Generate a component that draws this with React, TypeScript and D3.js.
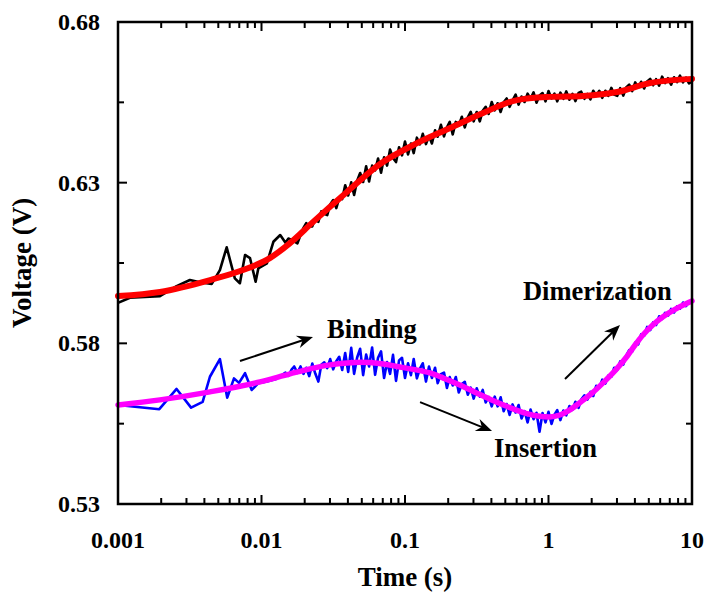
import React from 'react';
import * as d3 from 'd3';

// ---------- data ----------
const xTickValues = [0.001, 0.01, 0.1, 1, 10];
const xTickLabels = ['0.001', '0.01', '0.1', '1', '10'];
const yTickValues = [0.53, 0.58, 0.63, 0.68];
const yTickLabels = ['0.53', '0.58', '0.63', '0.68'];
const yMinorValues = [0.555, 0.605, 0.655];

// upper measured trace (black), sparse early samples
const blackEarlyTime = [0.001, 0.00121, 0.00196, 0.00256, 0.00317, 0.00372, 0.0045, 0.00513, 0.00572, 0.00652, 0.00707, 0.00768, 0.00832, 0.0091, 0.0095, 0.0109, 0.0121, 0.0135];
const blackEarlyVolt = [0.5926, 0.5942, 0.5947, 0.5978, 0.5997, 0.5990, 0.5985, 0.6028, 0.6099, 0.6002, 0.5987, 0.6075, 0.6065, 0.5992, 0.6033, 0.6049, 0.6116, 0.6137];

// lower measured trace (blue), sparse early samples
const blueEarlyTime = [0.001, 0.00194, 0.00256, 0.00323, 0.00389, 0.00437, 0.00513, 0.00577, 0.00643, 0.00697, 0.00768, 0.00855, 0.00951, 0.0109, 0.0125];
const blueEarlyVolt = [0.5608, 0.5595, 0.5658, 0.5600, 0.5618, 0.5696, 0.5751, 0.5631, 0.5691, 0.5677, 0.5707, 0.5655, 0.5676, 0.5681, 0.5688];

// dense sampling times shared by both traces
const denseTime = [
  0.0147, 0.0154, 0.0162, 0.0169, 0.0178, 0.0187, 0.0196, 0.0205, 0.0215, 0.0226,
  0.0237, 0.0249, 0.0261, 0.0274, 0.0287, 0.0301, 0.0316, 0.0332, 0.0348, 0.0365,
  0.0383, 0.0402, 0.0422, 0.0442, 0.0464, 0.0487, 0.0511, 0.0536, 0.0562, 0.0590,
  0.0619, 0.0649, 0.0681, 0.0715, 0.0750, 0.0787, 0.0825, 0.0866, 0.0909, 0.0953,
  0.100, 0.105, 0.110, 0.115, 0.121, 0.127, 0.133, 0.140, 0.147, 0.154,
  0.162, 0.169, 0.178, 0.187, 0.196, 0.205, 0.215, 0.226, 0.237, 0.249,
  0.261, 0.274, 0.287, 0.301, 0.316, 0.332, 0.348, 0.365, 0.383, 0.402,
  0.422, 0.442, 0.464, 0.487, 0.511, 0.536, 0.562, 0.590, 0.619, 0.649,
  0.681, 0.715, 0.750, 0.787, 0.825, 0.866, 0.909, 0.953,
  1.00, 1.05, 1.10, 1.15, 1.21, 1.27, 1.33, 1.40, 1.47, 1.54,
  1.62, 1.69, 1.78, 1.87, 1.96, 2.05, 2.15, 2.26, 2.37, 2.49,
  2.61, 2.74, 2.87, 3.01, 3.16, 3.32, 3.48, 3.65, 3.83, 4.02,
  4.22, 4.42, 4.64, 4.87, 5.11, 5.36, 5.62, 5.90, 6.19, 6.49,
  6.81, 7.15, 7.50, 7.87, 8.25, 8.66, 9.09, 9.53, 10.0,
];

const blackDenseVolt = [
  0.6113, 0.6126, 0.6122, 0.6117, 0.6111, 0.6137, 0.6159, 0.6174, 0.6164, 0.6164,
  0.6188, 0.6178, 0.6211, 0.6203, 0.6199, 0.6232, 0.6246, 0.6221, 0.6252, 0.6249,
  0.6292, 0.6260, 0.6301, 0.6262, 0.6306, 0.6330, 0.6302, 0.6351, 0.6304, 0.6353,
  0.6338, 0.6375, 0.6331, 0.6379, 0.6353, 0.6403, 0.6377, 0.6364, 0.6410, 0.6385,
  0.6428, 0.6388, 0.6422, 0.6392, 0.6440, 0.6419, 0.6452, 0.6420, 0.6445, 0.6422,
  0.6463, 0.6443, 0.6480, 0.6444, 0.6472, 0.6489, 0.6450, 0.6489, 0.6478, 0.6505,
  0.6472, 0.6503, 0.6520, 0.6491, 0.6520, 0.6491, 0.6524, 0.6536, 0.6514, 0.6551,
  0.6525, 0.6547, 0.6520, 0.6550, 0.6562, 0.6536, 0.6556, 0.6574, 0.6543, 0.6568,
  0.6551, 0.6577, 0.6561, 0.6581, 0.6549, 0.6571, 0.6579, 0.6553, 0.6585, 0.6562,
  0.6577, 0.6553, 0.6580, 0.6561, 0.6584, 0.6558, 0.6576, 0.6554, 0.6579, 0.6583,
  0.6561, 0.6576, 0.6559, 0.6586, 0.6570, 0.6586, 0.6564, 0.6586, 0.6570, 0.6595,
  0.6574, 0.6570, 0.6594, 0.6571, 0.6596, 0.6605, 0.6585, 0.6612, 0.6596, 0.6614,
  0.6593, 0.6615, 0.6623, 0.6603, 0.6622, 0.6602, 0.6630, 0.6610, 0.6625, 0.6605,
  0.6628, 0.6613, 0.6633, 0.6612, 0.6627, 0.6609, 0.6615,
];

const blueDenseVolt = [
  0.5709, 0.5699, 0.5718, 0.5728, 0.5708, 0.5728, 0.5705, 0.5724, 0.5698, 0.5737,
  0.5706, 0.5681, 0.5733, 0.5741, 0.5723, 0.5751, 0.5719, 0.5744, 0.5758, 0.5717,
  0.5770, 0.5711, 0.5786, 0.5705, 0.5756, 0.5783, 0.5701, 0.5765, 0.5728, 0.5787,
  0.5702, 0.5755, 0.5775, 0.5692, 0.5742, 0.5705, 0.5764, 0.5683, 0.5747, 0.5755,
  0.5692, 0.5738, 0.5701, 0.5751, 0.5691, 0.5721, 0.5738, 0.5681, 0.5728, 0.5692,
  0.5724, 0.5676, 0.5704, 0.5709, 0.5661, 0.5695, 0.5669, 0.5695, 0.5647, 0.5673,
  0.5680, 0.5640, 0.5662, 0.5628, 0.5660, 0.5634, 0.5655, 0.5616, 0.5633, 0.5604,
  0.5634, 0.5604, 0.5632, 0.5589, 0.5611, 0.5577, 0.5610, 0.5585, 0.5608, 0.5566,
  0.5589, 0.5554, 0.5594, 0.5564, 0.5584, 0.5525, 0.5583, 0.5554, 0.5587, 0.5549,
  0.5578, 0.5592, 0.5561, 0.5591, 0.5576, 0.5605, 0.5593, 0.5618, 0.5599, 0.5625,
  0.5638, 0.5625, 0.5649, 0.5636, 0.5668, 0.5662, 0.5687, 0.5675, 0.5700, 0.5696,
  0.5724, 0.5717, 0.5744, 0.5734, 0.5762, 0.5779, 0.5774, 0.5802, 0.5797, 0.5828,
  0.5824, 0.5851, 0.5841, 0.5865, 0.5857, 0.5884, 0.5876, 0.5895, 0.5886, 0.5907,
  0.5896, 0.5915, 0.5908, 0.5927, 0.5916, 0.5931, 0.5929,
];

// fitted curves
const redFitTime = [0.001, 0.00196, 0.00438, 0.00743, 0.0115, 0.0158, 0.0229, 0.0394, 0.067, 0.114, 0.206, 0.35, 0.603, 1.02, 1.74, 3.0, 5.1, 10];
const redFitVolt = [0.5947, 0.5960, 0.5997, 0.6028, 0.6066, 0.6112, 0.6178, 0.6271, 0.6358, 0.6417, 0.6470, 0.6517, 0.6557, 0.6567, 0.6570, 0.6582, 0.6610, 0.6623];

const magentaFitTime = [0.001, 0.00196, 0.00438, 0.00976, 0.0158, 0.0229, 0.030, 0.0394, 0.0486, 0.057, 0.0726, 0.088, 0.114, 0.149, 0.190, 0.241, 0.307, 0.391, 0.511, 0.686, 0.866, 1.02, 1.2, 1.41, 1.66, 2.01, 2.4, 2.91, 3.52, 4.0, 4.55, 5.35, 6.28, 7.61, 9.23, 10];
const magentaFitVolt = [0.5608, 0.5624, 0.5649, 0.5680, 0.5705, 0.5723, 0.5733, 0.5739, 0.5741, 0.5740, 0.5735, 0.5728, 0.5719, 0.5708, 0.5690, 0.5670, 0.5648, 0.5626, 0.5604, 0.5583, 0.5573, 0.5571, 0.5577, 0.5593, 0.5616, 0.5645, 0.5677, 0.5715, 0.5759, 0.5794, 0.5826, 0.5858, 0.5883, 0.5906, 0.5925, 0.5932];

// annotations
const annotLabels = ['Binding', 'Insertion', 'Dimerization'];
const annotTextTime = [0.0286, 0.417, 0.664];
const annotTextVolt = [0.5817, 0.5446, 0.5935];
const arrowStart = [[0.00708, 0.5745], [0.1273, 0.5617], [1.303, 0.5689]];
const arrowEnd = [[0.02285, 0.5820], [0.404, 0.5527], [3.149, 0.5857]];

const FONT = "'Liberation Serif', 'Times New Roman', serif";

export default function App() {
  const W = 715, H = 600;
  const left = 118, right = 692, top = 22, bottom = 504;
  const x = d3.scaleLog().domain([0.001, 10]).range([left, right]);
  const y = d3.scaleLinear().domain([0.53, 0.68]).range([bottom, top]);

  const black = d3.zip(blackEarlyTime.concat(denseTime), blackEarlyVolt.concat(blackDenseVolt));
  const blue = d3.zip(blueEarlyTime.concat(denseTime), blueEarlyVolt.concat(blueDenseVolt));
  const red = d3.zip(redFitTime, redFitVolt);
  const magenta = d3.zip(magentaFitTime, magentaFitVolt);

  const raw = d3.line<number[]>().x(d => x(d[0])).y(d => y(d[1]));
  const fit = d3.line<number[]>().x(d => x(d[0])).y(d => y(d[1])).curve(d3.curveMonotoneX);

  const minorX = x.ticks().filter(t => !xTickValues.some(v => Math.abs(v - t) / v < 1e-6));

  const majorLen = 9, minorLen = 6;

  const arrowHead = (x1: number, y1: number, x2: number, y2: number) => {
    const a = Math.atan2(y2 - y1, x2 - x1);
    const L = 16, Wd = 6.5, N = 11;
    const bx = x2 - L * Math.cos(a), by = y2 - L * Math.sin(a);
    const nx = x2 - N * Math.cos(a), ny = y2 - N * Math.sin(a);
    const px = -Math.sin(a), py = Math.cos(a);
    return `M${x2},${y2}L${bx + px * Wd},${by + py * Wd}L${nx},${ny}L${bx - px * Wd},${by - py * Wd}Z`;
  };

  return (
    <svg width={W} height={H} style={{ position: 'absolute', left: 0, top: 0, background: '#fff' }}
      fontFamily={FONT} fontWeight="bold">
      {/* data */}
      <path d={raw(black) || ''} fill="none" stroke="#000" strokeWidth={2.6} strokeLinejoin="round" />
      <path d={fit(red) || ''} fill="none" stroke="#ff0000" strokeWidth={6} strokeLinecap="round" />
      <path d={raw(blue) || ''} fill="none" stroke="#0000ff" strokeWidth={2.6} strokeLinejoin="round" />
      <path d={fit(magenta) || ''} fill="none" stroke="#ff00ff" strokeWidth={5.5} strokeLinecap="round" />

      {/* frame */}
      <rect x={left} y={top} width={right - left} height={bottom - top} fill="none" stroke="#000" strokeWidth={2.5} />

      {/* x ticks */}
      {xTickValues.map((t, i) => (
        <g key={'xt' + i}>
          <line x1={x(t)} x2={x(t)} y1={bottom} y2={bottom - majorLen} stroke="#000" strokeWidth={2} />
          <line x1={x(t)} x2={x(t)} y1={top} y2={top + majorLen} stroke="#000" strokeWidth={2} />
          <text x={x(t)} y={bottom + 44} textAnchor="middle" fontSize={24}>{xTickLabels[i]}</text>
        </g>
      ))}
      {minorX.map((t, i) => (
        <g key={'xm' + i}>
          <line x1={x(t)} x2={x(t)} y1={bottom} y2={bottom - minorLen} stroke="#000" strokeWidth={2} />
          <line x1={x(t)} x2={x(t)} y1={top} y2={top + minorLen} stroke="#000" strokeWidth={2} />
        </g>
      ))}

      {/* y ticks */}
      {yTickValues.map((v, i) => (
        <g key={'yt' + i}>
          <line x1={left} x2={left + majorLen} y1={y(v)} y2={y(v)} stroke="#000" strokeWidth={2} />
          <line x1={right} x2={right - majorLen} y1={y(v)} y2={y(v)} stroke="#000" strokeWidth={2} />
          <text x={100} y={y(v) + 8} textAnchor="end" fontSize={24}>{yTickLabels[i]}</text>
        </g>
      ))}
      {yMinorValues.map((v, i) => (
        <g key={'ym' + i}>
          <line x1={left} x2={left + minorLen} y1={y(v)} y2={y(v)} stroke="#000" strokeWidth={2} />
          <line x1={right} x2={right - minorLen} y1={y(v)} y2={y(v)} stroke="#000" strokeWidth={2} />
        </g>
      ))}

      {/* axis titles */}
      <text x={(left + right) / 2} y={586} textAnchor="middle" fontSize={27}>Time (s)</text>
      <text transform={`translate(31,${(top + bottom) / 2}) rotate(-90)`} textAnchor="middle" fontSize={27}>Voltage (V)</text>

      {/* annotations */}
      {annotLabels.map((lab, i) => (
        <text key={'an' + i} x={x(annotTextTime[i])} y={y(annotTextVolt[i])} fontSize={26.5}>{lab}</text>
      ))}
      {arrowStart.map((s, i) => {
        const x1 = x(s[0]), y1 = y(s[1]);
        const x2 = x(arrowEnd[i][0]), y2 = y(arrowEnd[i][1]);
        const a = Math.atan2(y2 - y1, x2 - x1);
        return (
          <g key={'ar' + i}>
            <line x1={x1} y1={y1} x2={x2 - 10 * Math.cos(a)} y2={y2 - 10 * Math.sin(a)} stroke="#000" strokeWidth={2} />
            <path d={arrowHead(x1, y1, x2, y2)} fill="#000" />
          </g>
        );
      })}
    </svg>
  );
}
